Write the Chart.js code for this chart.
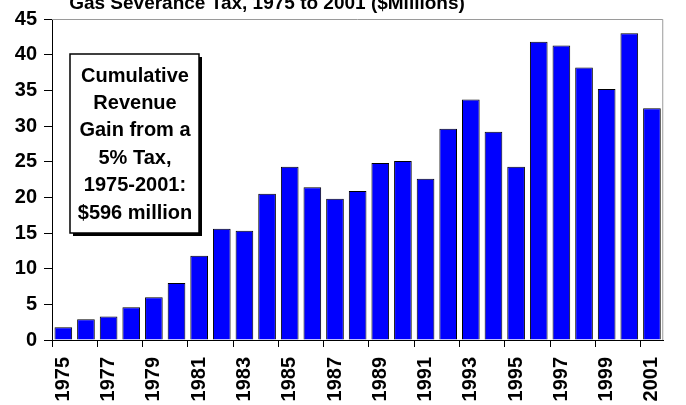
<!DOCTYPE html>
<html>
<head>
<meta charset="utf-8">
<script src="https://cdn.jsdelivr.net/npm/chart.js@4.4.1/dist/chart.umd.min.js"></script>
<style>
  html, body { margin: 0; padding: 0; background: #fff; }
  #wrap { width: 686px; height: 405px; }
</style>
</head>
<body>
<div id="wrap"><canvas id="gasChart" width="686" height="405"></canvas></div>
<script>
const years = ['1975','1976','1977','1978','1979','1980','1981','1982','1983','1984','1985','1986','1987','1988',
               '1989','1990','1991','1992','1993','1994','1995','1996','1997','1998','1999','2000','2001'];
const taxMillions = [1.8, 2.9, 3.3, 4.6, 6.0, 8.0, 11.8, 15.6, 15.3, 20.5, 24.3, 21.4, 19.8, 20.9,
                     24.8, 25.1, 22.6, 29.6, 33.7, 29.2, 24.3, 41.8, 41.3, 38.2, 35.2, 43.0, 32.5];
const chartTitle = 'Gas Severance Tax, 1975 to 2001 ($Millions)';
const boxLines = ['Cumulative', 'Revenue', 'Gain from a', '5% Tax,', '1975-2001:', '$596 million'];

const FONT = 'Arial, "Liberation Sans", sans-serif';

// title, plot frame (top/right in gray) and the text box
const extras = {
    id: 'extras',
    afterDraw(chart) {
        const ctx = chart.ctx;
        const a = chart.chartArea;
        ctx.save();
        ctx.strokeStyle = '#9a9a9a';
        ctx.lineWidth = 1;
        ctx.beginPath();
        ctx.moveTo(a.left, a.top + 0.5);
        ctx.lineTo(a.right - 0.5, a.top + 0.5);
        ctx.lineTo(a.right - 0.5, a.bottom);
        ctx.stroke();

        ctx.fillStyle = '#000';
        ctx.font = 'bold 19px ' + FONT;
        ctx.textAlign = 'center';
        ctx.textBaseline = 'alphabetic';
        ctx.fillText(chartTitle, 267, 9);

        const bx = 70, by = 54, bw = 129, bh = 179;
        ctx.fillStyle = '#000';
        ctx.fillRect(bx + 3, by + 3, bw, bh);
        ctx.fillStyle = '#fff';
        ctx.fillRect(bx, by, bw, bh);
        ctx.strokeStyle = '#000';
        ctx.lineWidth = 1.5;
        ctx.strokeRect(bx, by, bw, bh);

        ctx.fillStyle = '#000';
        ctx.font = 'bold 20px ' + FONT;
        ctx.textBaseline = 'middle';
        boxLines.forEach((t, i) => ctx.fillText(t, bx + bw / 2 + 0.5, 76 + i * 27.4));
        ctx.restore();
    }
};

new Chart(document.getElementById('gasChart').getContext('2d'), {
    type: 'bar',
    data: {
        labels: years,
        datasets: [{
            data: taxMillions,
            backgroundColor: '#0000FF',
            borderColor: '#000',
            borderWidth: 1,
            categoryPercentage: 1,
            barPercentage: 0.78
        }]
    },
    options: {
        responsive: false,
        animation: false,
        devicePixelRatio: 1,
        layout: { padding: { top: 16, right: 3, left: 0, bottom: 0 } },
        plugins: { legend: { display: false }, tooltip: { enabled: false }, title: { display: false } },
        scales: {
            x: {
                offset: true,
                afterFit: (s) => { s.height = 65; },
                border: { display: true, color: '#000', width: 1 },
                grid: {
                    offset: true,
                    drawOnChartArea: false,
                    drawTicks: true,
                    tickLength: 7,
                    color: (c) => (c.index % 2 === 0 ? '#000' : 'rgba(0,0,0,0)')
                },
                ticks: {
                    autoSkip: false,
                    maxRotation: 90,
                    minRotation: 90,
                    padding: 10,
                    color: '#000',
                    font: { family: FONT, size: 20, weight: 'bold' },
                    callback: function (val, i) { return i % 2 === 0 ? this.getLabelForValue(val) : ''; }
                }
            },
            y: {
                min: 0,
                max: 45,
                afterFit: (s) => { s.width = 52; },
                border: { display: true, color: '#000', width: 1 },
                grid: { drawOnChartArea: false, drawTicks: true, tickLength: 8, color: '#000' },
                ticks: {
                    stepSize: 5,
                    padding: 7,
                    color: '#000',
                    font: { family: FONT, size: 20, weight: 'bold' }
                }
            }
        }
    },
    plugins: [extras]
});
</script>
</body>
</html>
